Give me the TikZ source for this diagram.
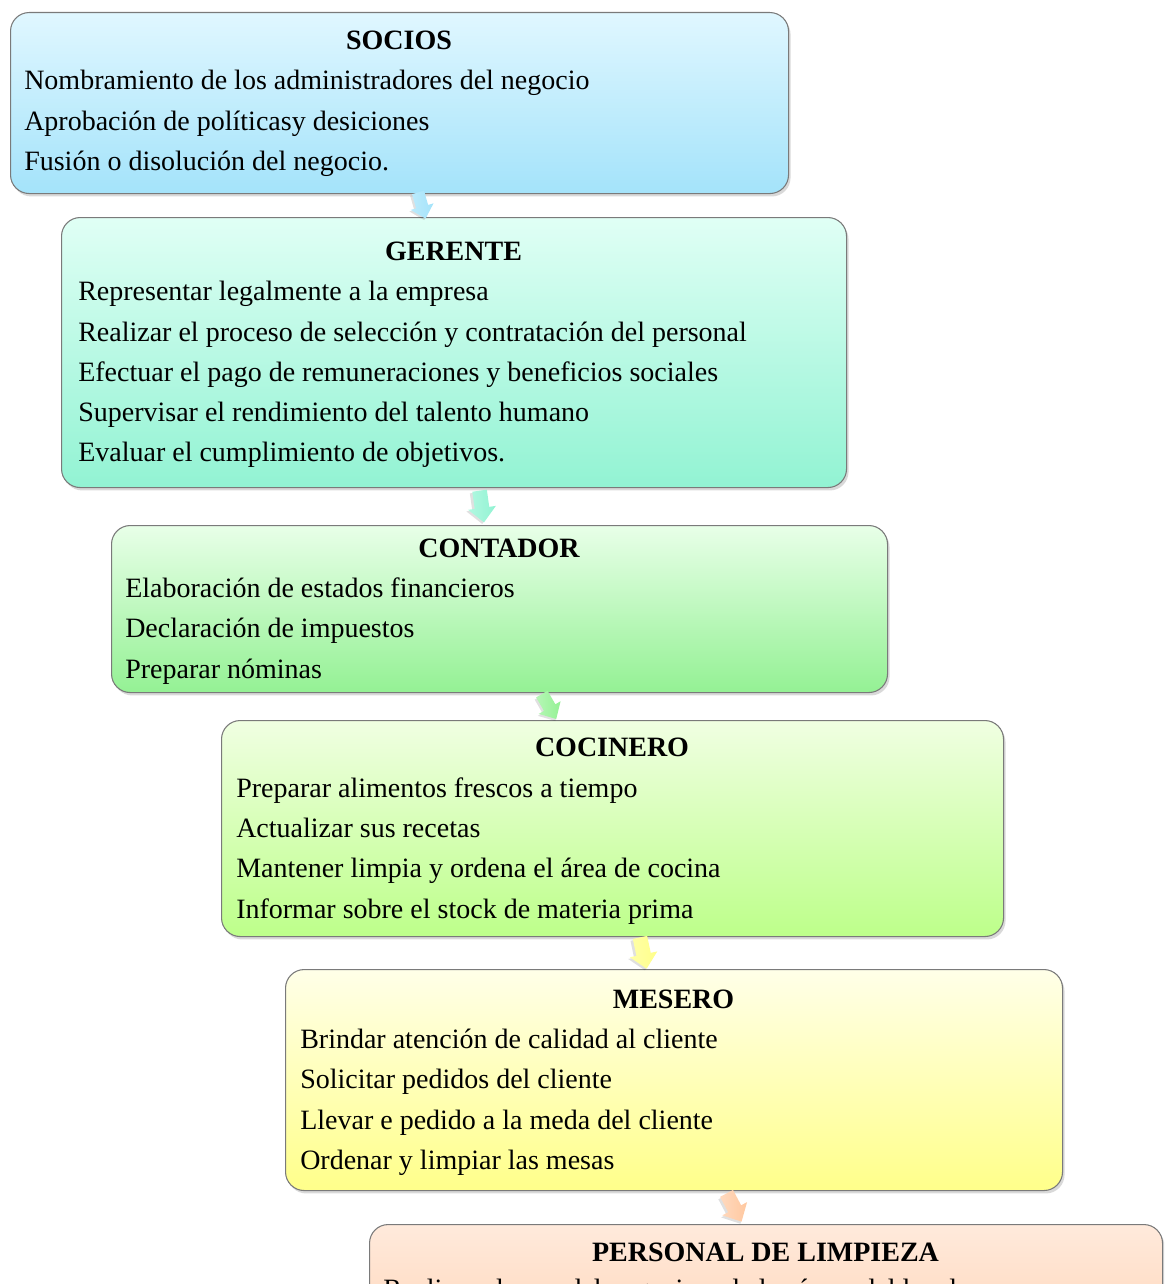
\documentclass[tikz,border=0pt]{standalone}
\usepackage{fontspec}
\setmainfont{Liberation Serif}
\usetikzlibrary{shadows,calc}
\definecolor{boxborder}{HTML}{7A7A7A}
\definecolor{sociosT}{HTML}{E0F7FF}\definecolor{sociosB}{HTML}{A4E3FA}
\definecolor{gerenteT}{HTML}{E0FFF5}\definecolor{gerenteB}{HTML}{92F3D3}
\definecolor{contadorT}{HTML}{E8FFE8}\definecolor{contadorB}{HTML}{94F194}
\definecolor{cocineroT}{HTML}{F0FFE2}\definecolor{cocineroB}{HTML}{BDFF8A}
\definecolor{meseroT}{HTML}{FFFFE8}\definecolor{meseroB}{HTML}{FFFF8A}
\definecolor{limpiezaT}{HTML}{FFEADC}\definecolor{limpiezaB}{HTML}{FFC8A0}
\begin{document}
\begin{tikzpicture}[x=0.75pt,y=-0.75pt,
  box/.style={draw=boxborder, line width=0.8pt, rounded corners=14pt, anchor=north west,
    inner sep=0pt, drop shadow={shadow xshift=1.5pt, shadow yshift=-2.2pt, opacity=0.3}},
  title/.style={anchor=base, inner sep=0pt, font=\fontsize{21}{25}\selectfont\bfseries},
  item/.style={anchor=base west, inner sep=0pt, font=\fontsize{21}{25}\selectfont},
  flowshadow/.style={fill=black, opacity=0.12},
  fatarrow/.pic={
    \fill[flowshadow] (-11pt,-7.5pt) -- (2pt,-7.5pt) -- (2pt,-12pt) -- (13pt,-1.5pt) -- (2pt,9pt) -- (2pt,4.5pt) -- (-11pt,4.5pt) -- cycle;
    \shade[left color=\arrT, right color=\arrB] (-12pt,-5.5pt) -- (1pt,-5.5pt) -- (1pt,-10.5pt) -- (12pt,0pt) -- (1pt,10.5pt) -- (1pt,5.5pt) -- (-12pt,5.5pt) -- cycle;
  }]
\useasboundingbox (0,0) rectangle (1164,1284);
\clip (0,0) rectangle (1164,1284);

% boxes
\node[box, minimum width=583.5pt, minimum height=135.75pt, top color=sociosT, bottom color=sociosB] (socios) at (10,12) {};
\node[box, minimum width=588.75pt, minimum height=202.5pt, top color=gerenteT, bottom color=gerenteB] (gerente) at (61,217) {};
\node[box, minimum width=582pt, minimum height=125.25pt, top color=contadorT, bottom color=contadorB] (contador) at (111,525) {};
\node[box, minimum width=586.5pt, minimum height=162pt, top color=cocineroT, bottom color=cocineroB] (cocinero) at (221,720) {};
\node[box, minimum width=582.75pt, minimum height=165.75pt, top color=meseroT, bottom color=meseroB] (mesero) at (285,969) {};
\node[box, minimum width=594.75pt, minimum height=150pt, top color=limpiezaT, bottom color=limpiezaB] (limpieza) at (369,1224) {};

% arrows between boxes
\coordinate (a1) at ($(socios.south)!0.5!(gerente.north)+(-5,0)$);
\coordinate (a2) at ($(gerente.south)!0.5!(contador.north)+(5,0)$);
\coordinate (a3) at ($(contador.south)!0.5!(cocinero.north)+(-7,0)$);
\coordinate (a4) at ($(cocinero.south)!0.5!(mesero.north)$);
\coordinate (a5) at ($(mesero.south)!0.5!(limpieza.north)+(14,0)$);
\def\arrT{sociosT!40!sociosB}\def\arrB{sociosB}
\pic[rotate=-74, scale=0.85] at (a1) {fatarrow};
\def\arrT{gerenteT!40!gerenteB}\def\arrB{gerenteB}
\pic[rotate=-82] at (a2) {fatarrow};
\def\arrT{contadorT!40!contadorB}\def\arrB{contadorB}
\pic[rotate=-60, scale=0.9] at (a3) {fatarrow};
\def\arrT{meseroT!30!meseroB}\def\arrB{meseroB}
\pic[rotate=-78] at (a4) {fatarrow};
\def\arrT{limpiezaT!50!limpiezaB}\def\arrB{limpiezaB}
\pic[rotate=-62] at (a5) {fatarrow};

% texts
\node[title] (t1) at (399,50) {SOCIOS};
\node[item] (s1) at (24,90) {Nombramiento de los administradores del negocio};
\node[item] (s2) at (24,131) {Aprobación de políticasy desiciones};
\node[item] (s3) at (24,171) {Fusión o disolución del negocio.};

\node[title] (t2) at (453.5,260) {GERENTE};
\node[item] (g1) at (78,300) {Representar legalmente a la empresa};
\node[item] (g2) at (78,341) {Realizar el proceso de selección y contratación del personal};
\node[item] (g3) at (78,381) {Efectuar el pago de remuneraciones y beneficios sociales};
\node[item] (g4) at (78,421) {Supervisar el rendimiento del talento humano};
\node[item] (g5) at (78,461) {Evaluar el cumplimiento de objetivos.};

\node[title] (t3) at (499,557) {CONTADOR};
\node[item] (c1) at (125,597) {Elaboración de estados financieros};
\node[item] (c2) at (125,637) {Declaración de impuestos};
\node[item] (c3) at (125,678) {Preparar nóminas};

\node[title] (t4) at (612,756) {COCINERO};
\node[item] (k1) at (236,797) {Preparar alimentos frescos a tiempo};
\node[item] (k2) at (236,837) {Actualizar sus recetas};
\node[item] (k3) at (236,877) {Mantener limpia y ordena el área de cocina};
\node[item] (k4) at (236,918) {Informar sobre el stock de materia prima};

\node[title] (t5) at (673.5,1008) {MESERO};
\node[item] (m1) at (300,1048) {Brindar atención de calidad al cliente};
\node[item] (m2) at (300,1088) {Solicitar pedidos del cliente};
\node[item] (m3) at (300,1129) {Llevar e pedido a la meda del cliente};
\node[item] (m4) at (300,1169) {Ordenar y limpiar las mesas};

\node[title] (t6) at (765.5,1261) {PERSONAL DE LIMPIEZA};
\node[item] (l1) at (383,1298) {Realizar el aseo del negocio y de las áreas del local};
\end{tikzpicture}
\end{document}
